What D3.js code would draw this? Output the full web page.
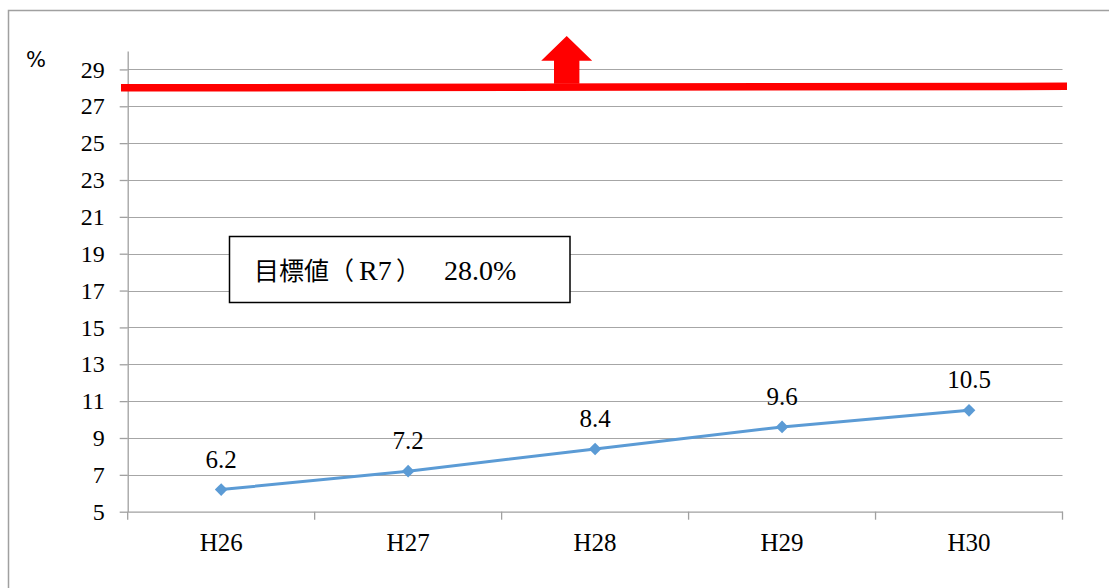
<!DOCTYPE html>
<html>
<head>
<meta charset="utf-8">
<script src="https://cdn.jsdelivr.net/npm/d3@7"></script>
<style>
  html, body { margin: 0; padding: 0; background: #fff; }
  svg { display: block; }
</style>
</head>
<body>
<svg id="chart" width="1109" height="588"></svg>
<script>
// ---- data ----
const categories = ["H26", "H27", "H28", "H29", "H30"];
const values = [6.2, 7.2, 8.4, 9.6, 10.5];
const yTicks = [5, 7, 9, 11, 13, 15, 17, 19, 21, 23, 25, 27, 29];
const yDomain = [5, 30];
const targetValue = 28.0;
const targetLabelParts = ["目標値（", "R7", "）", "28.0%"];
const unitLabel = "%";

// ---- layout ----
const svg = d3.select("#chart");
const W = 1109, H = 588;
const plot = { left: 127.7, right: 1062.5, top: 51, bottom: 511.7 };
const SERIF = "Liberation Serif";
const CJK = "Noto Sans CJK JP";

// outer frame (left + top only visible)
svg.append("path")
  .attr("d", `M8.5,${H} L8.5,10.5 L${W},10.5`)
  .attr("fill", "none").attr("stroke", "#a0a0a0").attr("stroke-width", 1.5);

const x = d3.scaleBand().domain(categories).range([plot.left, plot.right]).padding(0);
const y = d3.scaleLinear().domain(yDomain).range([plot.bottom, plot.top]);

// gridlines
svg.append("g").selectAll("line").data(yTicks.filter(t => t !== yDomain[0])).join("line")
  .attr("x1", plot.left).attr("x2", plot.right)
  .attr("y1", d => Math.round(y(d)) + 0.5).attr("y2", d => Math.round(y(d)) + 0.5)
  .attr("stroke", "#a6a6a6").attr("stroke-width", 1.2);

// y axis
const yAxis = svg.append("g").attr("transform", `translate(${plot.left},0)`)
  .call(d3.axisLeft(y).tickValues(yTicks).tickSize(8).tickPadding(15).tickSizeOuter(0));
yAxis.attr("font-family", SERIF).attr("font-size", 24);
yAxis.select(".domain").attr("stroke", "#a0a0a0").attr("stroke-width", 1.3);
yAxis.selectAll(".tick line").attr("stroke", "#a0a0a0").attr("stroke-width", 1.3);
yAxis.selectAll(".tick text").attr("fill", "#000");

// x axis
const xAxis = svg.append("g").attr("transform", `translate(0,${plot.bottom})`)
  .call(d3.axisBottom(x).tickSize(0).tickPadding(22));
xAxis.attr("font-family", SERIF).attr("font-size", 25);
xAxis.select(".domain").attr("stroke", "#a0a0a0").attr("stroke-width", 1.3);
xAxis.selectAll(".tick text").attr("fill", "#000");
// boundary tick marks
const bounds = categories.map(c => x(c)).concat([x(categories[categories.length - 1]) + x.bandwidth()]);
svg.append("g").selectAll("line").data(bounds).join("line")
  .attr("x1", d => d).attr("x2", d => d)
  .attr("y1", plot.bottom).attr("y2", plot.bottom + 8)
  .attr("stroke", "#a0a0a0").attr("stroke-width", 1.3);

// unit label
svg.append("text").attr("x", 26).attr("y", 67)
  .attr("font-family", "DejaVu Sans").attr("font-size", 21).attr("fill", "#000")
  .text(unitLabel);

// target line
svg.append("line")
  .attr("x1", 121).attr("x2", 1067)
  .attr("y1", y(targetValue)).attr("y2", y(targetValue) - 1.5)
  .attr("stroke", "#ff0000").attr("stroke-width", 7.5);

// arrow
const ax = 566.7, ayBase = y(targetValue) - 4;
svg.append("path")
  .attr("d", `M${ax},36 L${ax + 25.5},60.7 L${ax + 12.7},60.7 L${ax + 12.7},${ayBase} L${ax - 12.7},${ayBase} L${ax - 12.7},60.7 L${ax - 25.5},60.7 Z`)
  .attr("fill", "#ff0000");

// target label box
svg.append("rect").attr("x", 229.5).attr("y", 236.5).attr("width", 340.5).attr("height", 66)
  .attr("fill", "#fff").attr("stroke", "#000").attr("stroke-width", 1.5);
const lbl = svg.append("text").attr("y", 280).attr("fill", "#000");
const partX = [254, 359, 396, 444];
const partFont = [CJK, SERIF, CJK, SERIF];
const partSize = [25, 28, 25, 28];
lbl.selectAll("tspan").data(targetLabelParts).join("tspan")
  .attr("x", (d, i) => partX[i])
  .attr("font-family", (d, i) => partFont[i])
  .attr("font-size", (d, i) => partSize[i])
  .text(d => d);

// series line
const cx = d => x(d.c) + x.bandwidth() / 2;
const pts = categories.map((c, i) => ({ c, v: values[i] }));
svg.append("path").datum(pts)
  .attr("d", d3.line().x(cx).y(d => y(d.v)))
  .attr("fill", "none").attr("stroke", "#5b9bd5").attr("stroke-width", 3);

svg.append("g").selectAll("path").data(pts).join("path")
  .attr("d", d3.symbol(d3.symbolSquare, 80))
  .attr("transform", d => `translate(${cx(d)},${y(d.v)}) rotate(45)`)
  .attr("fill", "#5b9bd5");

svg.append("g").selectAll("text").data(pts).join("text")
  .attr("x", cx).attr("y", d => y(d.v) - 22)
  .attr("text-anchor", "middle")
  .attr("font-family", SERIF).attr("font-size", 25).attr("fill", "#000")
  .text(d => d.v.toFixed(1));
</script>
</body>
</html>
